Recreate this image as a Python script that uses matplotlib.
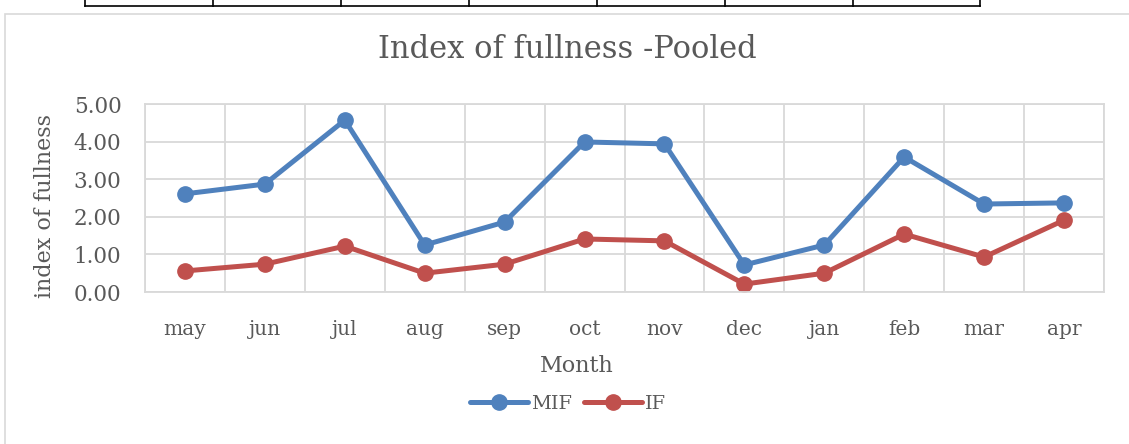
import matplotlib
matplotlib.use("Agg")
import matplotlib.pyplot as plt
from matplotlib.lines import Line2D
from matplotlib.patches import Rectangle

months = ["may", "jun", "jul", "aug", "sep", "oct", "nov", "dec", "jan", "feb", "mar", "apr"]
mif = [2.61, 2.87, 4.57, 1.25, 1.86, 3.99, 3.94, 0.72, 1.25, 3.59, 2.34, 2.37]
if_vals = [0.56, 0.74, 1.22, 0.50, 0.74, 1.41, 1.36, 0.21, 0.50, 1.54, 0.93, 1.91]
yticks = [0.0, 1.0, 2.0, 3.0, 4.0, 5.0]

plt.rcParams['font.family'] = ['DejaVu Serif']
W, H = 1129, 444
fig = plt.figure(figsize=(W / 100, H / 100), dpi=100)
TXT = "#595959"

# chart border
fig.add_artist(Rectangle((5 / W, -0.01), 1.2, 1 - 14 / H + 0.01, transform=fig.transFigure,
                         fill=False, edgecolor="#d9d9d9", lw=1.2))
# table fragment at top
fig.add_artist(Line2D([85 / W, 980 / W], [1 - 6 / H, 1 - 6 / H], transform=fig.transFigure, color="black", lw=1.2))
for xv in [85, 213, 341, 469, 597, 725, 853, 980]:
    fig.add_artist(Line2D([xv / W, xv / W], [1 - 6 / H, 1.0], transform=fig.transFigure, color="black", lw=1.2))

ax = fig.add_axes([145 / W, 1 - 292 / H, (1104 - 145) / W, (292 - 104) / H])
x = list(range(len(months)))
ax.plot(x, mif, color="#4f81bd", lw=3.6, marker="o", ms=11, label="MIF", solid_capstyle="round")
ax.plot(x, if_vals, color="#c0504d", lw=3.6, marker="o", ms=11, label="IF", solid_capstyle="round")

ax.set_xlim(-0.5, len(months) - 0.5)
ax.set_ylim(0, 5)
ax.set_yticks(yticks)
ax.set_yticklabels([f"{v:.2f}" for v in yticks], fontsize=15.5, color=TXT)
ax.set_xticks(x)
ax.set_xticklabels(months, fontsize=14.5, color=TXT)
ax.set_xticks([i - 0.5 for i in range(len(months) + 1)], minor=True)
ax.grid(True, which="major", axis="y", color="#d9d9d9", lw=1.3)
ax.grid(True, which="minor", axis="x", color="#d9d9d9", lw=1.3)
ax.tick_params(axis="both", which="both", length=0)
ax.tick_params(axis="x", pad=20)
ax.tick_params(axis="y", pad=17)
for s in ax.spines.values():
    s.set_color("#d9d9d9")
    s.set_linewidth(1.3)
ax.set_axisbelow(True)

fig.text(567 / W, 1 - 49 / H, "Index of fullness -Pooled", ha="center", va="center", fontsize=22, color=TXT)
fig.text(45 / W, 1 - 206 / H, "index of fullness", ha="center", va="center", rotation=90, fontsize=16, color=TXT)
fig.text(577 / W, 1 - 366 / H, "Month", ha="center", va="center", fontsize=16, color=TXT)

leg = fig.legend(loc="center", bbox_to_anchor=(568 / W, 1 - 404 / H), ncol=2, frameon=False,
                 fontsize=14, handlelength=3, columnspacing=0.6, handletextpad=0.15)
for t in leg.get_texts():
    t.set_color(TXT)

fig.savefig("out.png", dpi=100, facecolor="white")
